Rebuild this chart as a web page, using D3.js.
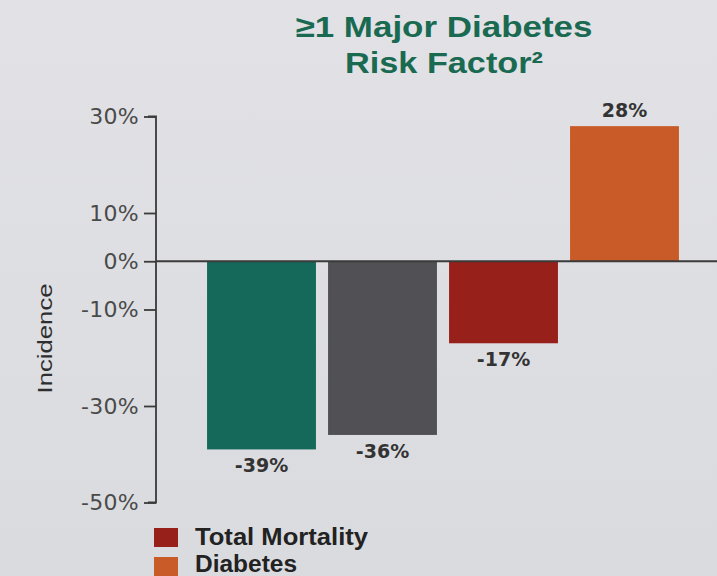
<!DOCTYPE html>
<html>
<head>
<meta charset="utf-8">
<script src="https://cdn.jsdelivr.net/npm/d3@7"></script>
<style>
  html, body { margin: 0; padding: 0; background: #dedde2; }
  svg { display: block; font-family: "Liberation Sans", Arial, Helvetica, sans-serif; }
</style>
</head>
<body>
<svg id="chart" width="717" height="576"></svg>
<script>
// Outcome categories and their change in incidence (%)
const categories = ["Diabetes Incidence A", "Diabetes Incidence B", "Total Mortality", "Diabetes"];
const values = [-39, -36, -17, 28];
const barColors = ["#15695a", "#505055", "#97201b", "#c85b27"];
const tickValues = [30, 10, 0, -10, -30, -50];
const legendLabels = ["Total Mortality", "Diabetes"];
const legendColors = ["#97201b", "#c85b27"];

const svg = d3.select("#chart");
const W = 717, H = 576;

// background with a faint vertical gradient
const defs = svg.append("defs");
const grad = defs.append("linearGradient").attr("id", "bg").attr("x1", 0).attr("y1", 0).attr("x2", 0).attr("y2", 1);
grad.append("stop").attr("offset", "0%").attr("stop-color", "#e2e2e6");
grad.append("stop").attr("offset", "100%").attr("stop-color", "#dadbdf");
svg.append("rect").attr("width", W).attr("height", H).attr("fill", "url(#bg)");

const axisX = 156;
const y = d3.scaleLinear().domain([-50, 30]).range([502.5, 116.5]);
const x = d3.scaleBand().domain(categories).range([201, 685]).paddingInner(0.1).paddingOuter(0.05);

// title, two lines in a wide heavy face
const titleLines = [["≥1 Major Diabetes", 37, 297], ["Risk Factor²", 73, 198]];
titleLines.forEach(([t, by, len]) => {
  svg.append("text")
    .attr("x", 444 - len / 2).attr("y", by)
    .attr("textLength", len).attr("lengthAdjust", "spacingAndGlyphs")
    .attr("fill", "#1a6a52").attr("font-weight", "bold").attr("font-size", 30)
    .text(t);
});

// bars
svg.selectAll("rect.bar").data(values).join("rect")
  .attr("class", "bar")
  .attr("x", (d, i) => x(categories[i]))
  .attr("width", x.bandwidth())
  .attr("y", d => y(Math.max(0, d)))
  .attr("height", d => Math.abs(y(d) - y(0)))
  .attr("fill", (d, i) => barColors[i]);

// zero baseline across the plot
svg.append("line")
  .attr("x1", axisX).attr("x2", W)
  .attr("y1", y(0)).attr("y2", y(0))
  .attr("stroke", "#3a3a3a").attr("stroke-width", 1.8);

// y axis
const yAxis = d3.axisLeft(y).tickValues(tickValues).tickSize(12).tickPadding(5)
  .tickFormat(d => d + "%");
const gy = svg.append("g").attr("transform", `translate(${axisX},0)`).call(yAxis);
gy.select(".domain").attr("stroke", "#3a3a3a").attr("stroke-width", 1.8)
  .attr("d", `M-8,${y(30)}H0V${y(-50)}H-8`);
gy.selectAll(".tick line").attr("stroke", "#3a3a3a").attr("stroke-width", 1.8);
gy.selectAll(".tick text").attr("fill", "#4a4a4a").attr("font-size", 22)
  .attr("font-family", "'DejaVu Sans', sans-serif").attr("letter-spacing", 0.3);

// axis title
svg.append("text")
  .attr("transform", `translate(52,${y(-16)}) rotate(-90)`)
  .attr("x", -55)
  .attr("textLength", 110).attr("lengthAdjust", "spacingAndGlyphs")
  .attr("fill", "#2e2e2e").attr("font-size", 21)
  .text("Incidence");

// value labels
svg.selectAll("text.val").data(values).join("text")
  .attr("class", "val")
  .attr("x", (d, i) => x(categories[i]) + x.bandwidth() / 2)
  .attr("y", d => d < 0 ? y(d) + 23 : y(d) - 9)
  .attr("text-anchor", "middle")
  .attr("fill", "#333").attr("font-weight", "bold").attr("font-size", 19)
  .attr("font-family", "'DejaVu Sans', sans-serif")
  .text(d => d + "%");

// legend
const legendLen = [173, 102];
const lg = svg.append("g");
legendLabels.forEach((lab, i) => {
  const ly = 528 + i * 29;
  lg.append("rect").attr("x", 154).attr("y", ly).attr("width", 24).attr("height", 19)
    .attr("fill", legendColors[i]);
  lg.append("text").attr("x", 195).attr("y", 545 + i * 27)
    .attr("textLength", legendLen[i]).attr("lengthAdjust", "spacingAndGlyphs")
    .attr("fill", "#222").attr("font-weight", "bold").attr("font-size", 23)
    .text(lab);
});
</script>
</body>
</html>
